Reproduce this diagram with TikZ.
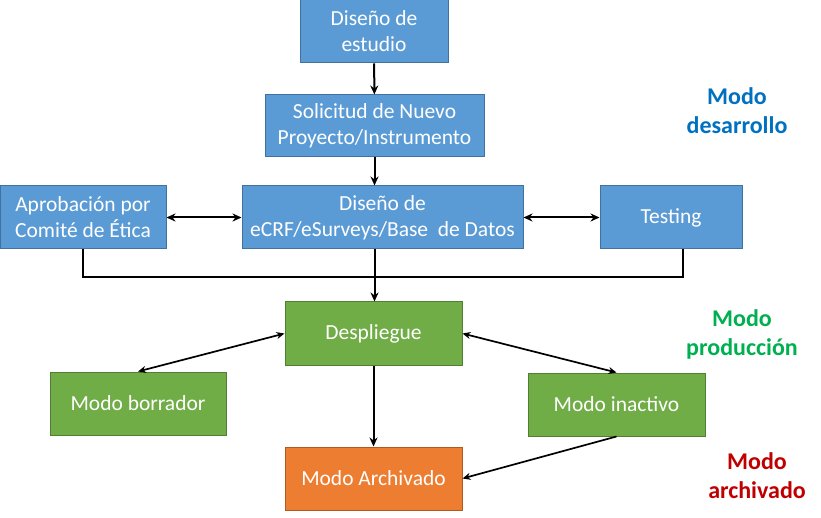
\documentclass[tikz,border=0pt]{standalone}
\usepackage{fontspec}
\setmainfont{Carlito}
\usetikzlibrary{arrows.meta}

\definecolor{boxblue}{RGB}{91,155,213}
\definecolor{lineblue}{RGB}{65,113,156}
\definecolor{boxgreen}{RGB}{112,173,71}
\definecolor{linegreen}{RGB}{80,126,50}
\definecolor{boxorange}{RGB}{237,125,49}
\definecolor{lineorange}{RGB}{174,90,33}
\definecolor{txtblue}{RGB}{0,112,192}
\definecolor{txtgreen}{RGB}{0,176,80}
\definecolor{txtred}{RGB}{192,0,0}

\tikzset{
  box/.style={draw, line width=1pt, text=white, align=center, inner sep=0pt,
    font=\fontsize{21.5}{26}\selectfont},
  devbox/.style={box, fill=boxblue, draw=lineblue},
  prodbox/.style={box, fill=boxgreen, draw=linegreen},
  archbox/.style={box, fill=boxorange, draw=lineorange},
  modelabel/.style={align=center, font=\fontsize{24}{29}\selectfont\bfseries},
  conn/.style={line width=2pt, -{Stealth[length=9pt,width=8pt]}},
  biconn/.style={line width=2pt, {Stealth[length=9pt,width=8pt]}-{Stealth[length=9pt,width=8pt]}},
  thinbi/.style={line width=1.7pt, {Stealth[length=8pt,width=7pt]}-{Stealth[length=8pt,width=7pt]}}
}

\begin{document}
\begin{tikzpicture}[x=1pt, y=-1pt]
    \useasboundingbox (0,0) rectangle (821,518);

    % Modo desarrollo
    \node[devbox, minimum width=148pt, minimum height=63pt] (estudio) at (374,31.5) {Diseño de\\estudio};
    \node[devbox, minimum width=219pt, minimum height=62pt] (solicitud) at (374.5,126) {Solicitud de Nuevo\\Proyecto/Instrumento};
    \node[devbox, minimum width=166pt, minimum height=63pt] (aprobacion) at (83,217.5) {Aprobación por\\Comité de Ética};
    \node[devbox, minimum width=281pt, minimum height=63pt] (ecrf) at (382.5,217.5) {Diseño de\\eCRF/eSurveys/Base~ de Datos};
    \node[devbox, minimum width=142pt, minimum height=63pt] (testing) at (671,217.5) {Testing};

    % Modo produccion
    \node[prodbox, minimum width=177pt, minimum height=63pt] (despliegue) at (373.5,333.5) {Despliegue};
    \node[prodbox, minimum width=176pt, minimum height=63pt] (borrador) at (138,403.5) {Modo borrador};
    \node[prodbox, minimum width=177pt, minimum height=63pt] (inactivo) at (616.5,404.5) {Modo inactivo};

    % Modo archivado
    \node[archbox, minimum width=177pt, minimum height=63pt] (archivado) at (373.5,478.5) {Modo Archivado};

    % Etiquetas
    \node[modelabel, text=txtblue] (lbldes) at (737,111) {Modo\\desarrollo};
    \node[modelabel, text=txtgreen] (lblprod) at (742,334) {Modo\\producción};
    \node[modelabel, text=txtred] (lblarch) at (757,476) {Modo\\archivado};

    % Conectores
    \draw[conn] (estudio) -- (solicitud);
    \draw[conn] (solicitud.south) -- (solicitud.south |- ecrf.north);
    \draw[biconn] (aprobacion) -- (ecrf);
    \draw[biconn] (ecrf) -- (testing);
    \coordinate (tjoin) at (683,277);
    \draw[line width=2pt] (aprobacion.south) |- (tjoin) -- (tjoin |- testing.south);
    \draw[conn] (solicitud.south |- ecrf.south) -- (solicitud.south |- despliegue.north);
    \draw[thinbi] (despliegue.west) -- (borrador.north);
    \draw[thinbi] (despliegue.east) -- (inactivo.north);
    \draw[conn] (despliegue) -- (archivado);
    \draw[line width=1.7pt, -{Stealth[length=8pt,width=7pt]}] (inactivo.south) -- (archivado.east);
\end{tikzpicture}
\end{document}
